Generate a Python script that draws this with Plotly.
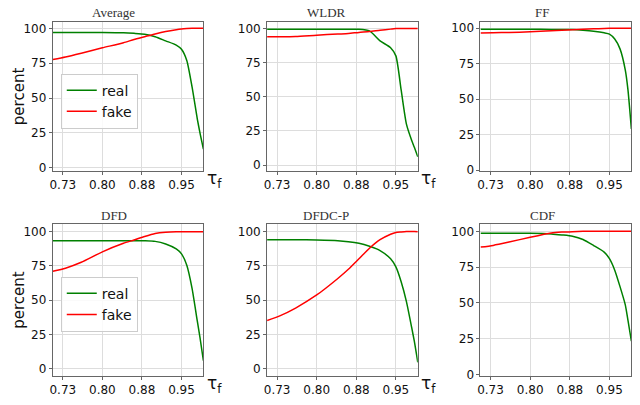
import plotly.graph_objects as go

# threshold values (shared by all panels)
tau = [0.706, 0.73, 0.76, 0.80, 0.84, 0.86, 0.88, 0.90, 0.92, 0.94, 0.95,
       0.96, 0.97, 0.98, 0.985, 0.9915]

titles = ["Average", "WLDR", "FF", "DFD", "DFDC-P", "CDF"]

avg_real = [97, 97, 97, 97, 96.8, 96.4, 95.8, 94, 91, 88, 85, 77, 58, 35, 25, 13.5]
avg_fake = [77.7, 79.5, 82.2, 86, 89.7, 92, 94, 96, 97.7, 99, 99.5, 99.8, 100, 100, 100, 100]

wldr_real = [99.5, 99.5, 99.5, 99.5, 99.5, 99.5, 99.5, 98.3, 91, 86, 80, 55, 30, 18, 13, 6]
wldr_fake = [94, 94, 94.2, 95.2, 96, 96.4, 97.2, 97.8, 98.8, 99.6, 100, 100, 100, 100, 100, 100]

ff_real = [99.3, 99.3, 99.3, 99.3, 99.2, 99.2, 99.1, 98.6, 97.9, 96.8, 95.9, 92.4, 85.5, 70.6, 56.8, 29]
ff_fake = [96.6, 96.8, 97.1, 97.5, 98.2, 98.6, 98.9, 99.3, 99.6, 99.9, 100, 100, 100, 100, 100, 100]

dfd_real = [93.3, 93.3, 93.3, 93.3, 93.3, 93.3, 93.2, 92.8, 90.9, 87.3, 83.7, 75.4, 58.6, 34.7, 23, 6]
dfd_fake = [71, 73.3, 77.6, 85.2, 91.4, 93.8, 96.4, 98.6, 99.5, 99.8, 99.8, 99.8, 99.8, 99.8, 99.8, 99.8]

dfdcp_real = [94, 94, 94, 93.8, 93.3, 92.6, 91.4, 89.2, 86.1, 80.1, 74.2, 63.4, 49, 30, 20, 4.8]
dfdcp_fake = [35.2, 38.6, 44.3, 53.8, 65.8, 72.5, 80.1, 87.8, 94, 98, 99.3, 99.7, 100, 100, 100, 99.8]

cdf_real = [98.6, 98.6, 98.6, 98.6, 98.2, 97.5, 96.6, 94.3, 90.1, 85.5, 80.9, 72.9, 61.4, 48.7, 38, 23.4]
cdf_fake = [89, 90.2, 92.5, 95.9, 98.9, 99.5, 99.8, 100, 100, 100, 100, 100, 100, 100, 100, 100]

real_all = [avg_real, wldr_real, ff_real, dfd_real, dfdcp_real, cdf_real]
fake_all = [avg_fake, wldr_fake, ff_fake, dfd_fake, dfdcp_fake, cdf_fake]

x_tickvals = [0.725, 0.80, 0.875, 0.95]
x_ticktext = ["0.73", "0.80", "0.88", "0.95"]
y_tickvals = [0, 25, 50, 75, 100]

W, H = 640, 405
# plot boxes in pixels: (left, right, top, bottom)
cols_px = [(42, 193.3), (257.3, 408.7), (471.7, 623.3)]
rows_px = [(14, 165.5), (220, 374)]
yranges = [[-2, 104.7], [-4.1, 105], [-0.3, 104.6],
           [-4.8, 105.3], [-4.8, 105.3], [-0.7, 105]]
title_cx = [103, 316.5, 534]

fig = go.Figure()
annotations = []

for i in range(6):
    r, c = divmod(i, 3)
    n = i + 1
    xa = "x" if n == 1 else "x%d" % n
    ya = "y" if n == 1 else "y%d" % n
    leg = "legend" if i == 0 else "legend2"
    show = i in (0, 3)
    fig.add_trace(go.Scatter(x=tau, y=real_all[i], mode="lines", name="real",
                             line=dict(color="green", width=1.5, shape="spline", smoothing=0.6),
                             xaxis=xa, yaxis=ya, legend=leg, showlegend=show))
    fig.add_trace(go.Scatter(x=tau, y=fake_all[i], mode="lines", name="fake",
                             line=dict(color="red", width=1.5, shape="spline", smoothing=0.6),
                             xaxis=xa, yaxis=ya, legend=leg, showlegend=show))

    l, rr = cols_px[c]
    t, b = rows_px[r]
    common = dict(showline=True, mirror=True, linecolor="#666666", linewidth=1,
                  showgrid=True, gridcolor="#dddddd", gridwidth=1, zeroline=False,
                  ticks="outside", ticklen=3, tickcolor="#666666",
                  tickfont=dict(family="DejaVu Sans", size=12, color="#111111"))
    fig.update_layout(**{
        ("xaxis" if n == 1 else "xaxis%d" % n): dict(
            domain=[l / W, rr / W], range=[0.706, 0.9915], anchor=ya,
            tickvals=x_tickvals, ticktext=x_ticktext, **common),
        ("yaxis" if n == 1 else "yaxis%d" % n): dict(
            domain=[1 - b / H, 1 - t / H], range=yranges[i], anchor=xa,
            tickvals=y_tickvals, **common),
    })

    # subplot title
    annotations.append(dict(text=titles[i], x=title_cx[c] / W, y=1 - (t - 0.5) / H,
                            xref="paper", yref="paper", xanchor="center", yanchor="bottom",
                            showarrow=False, borderpad=0,
                            font=dict(family="Liberation Serif", size=13, color="#333333")))
    # tau_f label
    annotations.append(dict(text="τ<sub>f</sub>", x=(rr + 1.5) / W, y=1 - (b + 9) / H,
                            xref="paper", yref="paper", xanchor="left", yanchor="middle",
                            showarrow=False,
                            font=dict(family="DejaVu Sans", size=17, color="#111111")))

for t, b in rows_px:
    annotations.append(dict(text="percent", x=8 / W, y=1 - (t + b) / 2 / H,
                            xref="paper", yref="paper", xanchor="center", yanchor="middle",
                            textangle=-90, showarrow=False,
                            font=dict(family="DejaVu Sans", size=15, color="#111111")))

legend_style = dict(bgcolor="rgba(255,255,255,0.85)", bordercolor="#cccccc", borderwidth=1,
                    font=dict(family="DejaVu Sans", size=14, color="#111111"),
                    xanchor="left", yanchor="top")

fig.update_layout(
    width=W, height=H,
    margin=dict(l=0, r=0, t=0, b=0),
    plot_bgcolor="white", paper_bgcolor="white",
    annotations=annotations,
    legend=dict(x=50 / W, y=1 - 66.7 / H, **legend_style),
    legend2=dict(x=50 / W, y=1 - 273.3 / H, **legend_style),
)

fig.write_html("out.html")
